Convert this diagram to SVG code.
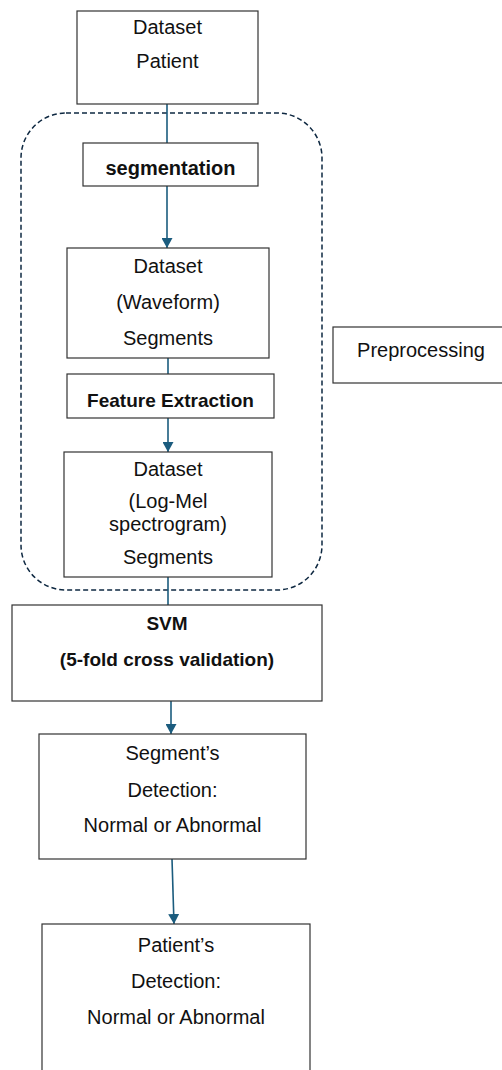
<svg xmlns="http://www.w3.org/2000/svg" width="502" height="1070" viewBox="0 0 502 1070">
  <defs>
    <marker id="arrow" markerUnits="userSpaceOnUse" markerWidth="11" markerHeight="11" refX="10" refY="5.5" orient="auto">
      <path d="M0,0 L10,5.5 L0,11 Z" fill="#1b5c7e"/>
    </marker>
  </defs>
  <style>
    .box { fill: #ffffff; stroke: #333333; stroke-width: 1.2; }
    .t { font-family: "Liberation Sans", Arial, sans-serif; font-size: 20px; fill: #111111; text-anchor: middle; }
    .b { font-family: "Liberation Sans", Arial, sans-serif; font-size: 19px; font-weight: bold; fill: #111111; text-anchor: middle; }
    .conn { stroke: #1b5c7e; stroke-width: 1.6; fill: none; }
    .group { fill: none; stroke: #0e2841; stroke-width: 1.5; stroke-dasharray: 5 3; }
  </style>
  <rect id="preprocessing-group" class="group" x="21" y="113" width="301" height="477" rx="45" ry="45"/>
  <g id="connectors">
    <line class="conn" x1="167" y1="104" x2="167" y2="143"/>
    <line class="conn" x1="167" y1="186" x2="167" y2="248" marker-end="url(#arrow)"/>
    <line class="conn" x1="168" y1="358" x2="168" y2="374"/>
    <line class="conn" x1="168" y1="418" x2="168" y2="452" marker-end="url(#arrow)"/>
    <line class="conn" x1="168" y1="577" x2="168" y2="605"/>
    <line class="conn" x1="171" y1="701" x2="171" y2="734" marker-end="url(#arrow)"/>
    <line class="conn" x1="172" y1="859" x2="174" y2="924" marker-end="url(#arrow)"/>
  </g>
  <g id="dataset-patient">
    <rect class="box" x="77" y="11" width="181" height="93"/>
    <text class="t" x="167.5" y="34">Dataset</text>
    <text class="t" x="167.5" y="68">Patient</text>
  </g>
  <g id="segmentation">
    <rect class="box" x="83" y="143" width="175" height="43"/>
    <text class="b" x="170.5" y="175" style="font-size:20px">segmentation</text>
  </g>
  <g id="dataset-waveform">
    <rect class="box" x="67" y="248" width="202" height="110"/>
    <text class="t" x="168" y="273">Dataset</text>
    <text class="t" x="168" y="309">(Waveform)</text>
    <text class="t" x="168" y="345">Segments</text>
  </g>
  <g id="feature-extraction">
    <rect class="box" x="67" y="374" width="207" height="44"/>
    <text class="b" x="170.5" y="407">Feature Extraction</text>
  </g>
  <g id="dataset-logmel">
    <rect class="box" x="64" y="452" width="208" height="125"/>
    <text class="t" x="168" y="476">Dataset</text>
    <text class="t" x="168" y="508">(Log-Mel</text>
    <text class="t" x="168" y="530.5">spectrogram)</text>
    <text class="t" x="168" y="564">Segments</text>
  </g>
  <g id="svm">
    <rect class="box" x="12" y="605" width="310" height="96"/>
    <text class="b" x="167" y="630">SVM</text>
    <text class="b" x="167" y="666">(5-fold cross validation)</text>
  </g>
  <g id="segment-detection">
    <rect class="box" x="39" y="734" width="267" height="125"/>
    <text class="t" x="172.5" y="760">Segment’s</text>
    <text class="t" x="172.5" y="797">Detection:</text>
    <text class="t" x="172.5" y="832">Normal or Abnormal</text>
  </g>
  <g id="patient-detection">
    <rect class="box" x="42" y="924" width="268" height="160"/>
    <text class="t" x="176" y="952">Patient’s</text>
    <text class="t" x="176" y="988">Detection:</text>
    <text class="t" x="176" y="1024">Normal or Abnormal</text>
  </g>
  <g id="preprocessing-label">
    <rect class="box" x="333" y="327" width="175" height="56"/>
    <text class="t" x="421" y="357">Preprocessing</text>
  </g>
</svg>
